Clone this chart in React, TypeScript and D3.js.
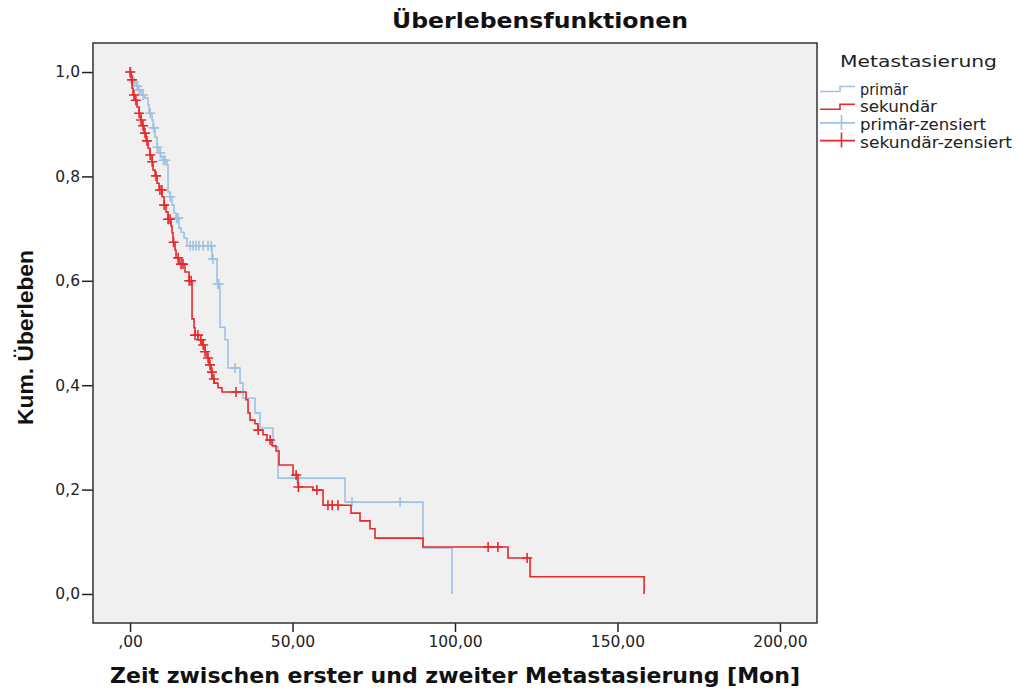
import { useEffect, useRef } from "react"
import * as d3 from "d3"

// Kaplan-Meier steps: [time in months, cumulative survival after the drop]
const primaerSteps: [number, number][] = [
    [0, 1.0], [0.31, 0.99], [0.92, 0.981], [1.85, 0.973], [2.46, 0.966], [3.38, 0.956],
    [4.62, 0.95], [5.54, 0.937], [5.85, 0.921], [6.77, 0.908], [7.08, 0.893], [7.69, 0.875],
    [8.31, 0.856], [8.92, 0.845], [9.54, 0.837], [10.15, 0.831], [11.38, 0.822], [11.69, 0.77],
    [12.31, 0.761], [12.92, 0.745], [13.54, 0.73], [14.15, 0.72], [15.08, 0.701], [15.69, 0.693],
    [16.62, 0.682], [17.54, 0.667], [25.23, 0.642], [26.77, 0.594], [27.69, 0.511], [29.23, 0.487],
    [30.15, 0.433], [33.85, 0.404], [34.77, 0.375], [38.46, 0.347], [40.0, 0.318], [44.0, 0.282],
    [45.54, 0.222], [66.15, 0.176], [90.15, 0.088], [99.08, 0.0],
]

const sekundaerSteps: [number, number][] = [
    [0, 1.0], [0.31, 0.985], [0.62, 0.969], [0.92, 0.956], [1.54, 0.946], [2.15, 0.933],
    [2.77, 0.921], [3.38, 0.908], [3.69, 0.897], [4.31, 0.883], [4.92, 0.868], [5.54, 0.854],
    [6.15, 0.841], [6.77, 0.828], [7.08, 0.812], [7.69, 0.801], [8.31, 0.787], [8.92, 0.774],
    [9.85, 0.761], [10.46, 0.745], [11.08, 0.732], [11.69, 0.718], [12.62, 0.705], [12.92, 0.692],
    [13.23, 0.674], [13.85, 0.659], [14.15, 0.644], [15.08, 0.632], [16.92, 0.617], [18.15, 0.6],
    [19.08, 0.527], [19.69, 0.51], [20.0, 0.496], [20.92, 0.487], [22.15, 0.477], [23.08, 0.464],
    [23.69, 0.452], [24.31, 0.439], [24.92, 0.425], [25.23, 0.412], [25.85, 0.404], [27.08, 0.395],
    [28.31, 0.387], [35.69, 0.372], [36.31, 0.347], [36.92, 0.333], [38.46, 0.326], [39.38, 0.314],
    [40.92, 0.305], [42.15, 0.295], [43.69, 0.284], [44.92, 0.274], [45.85, 0.247], [50.15, 0.228],
    [51.69, 0.205], [56.31, 0.199], [59.38, 0.17], [68.0, 0.155], [70.77, 0.14], [73.85, 0.125],
    [75.38, 0.107], [90.15, 0.09], [116.3, 0.069], [123.1, 0.033], [158.2, 0.0],
]

// censored times (months)
const primaerCensored = [
    0.3, 1.2, 2.2, 2.8, 4.0, 6.2, 7.3, 8.4, 9.3, 10.3, 10.8, 12.4, 14.3, 14.8,
    18.5, 19.4, 20.3, 21.2, 22.5, 24.0, 25.0, 25.5, 27.0, 27.3, 32.3, 51.4, 68.3, 83.1,
]

const sekundaerCensored = [
    0, 0.6, 1.2, 1.8, 2.8, 3.4, 4.0, 4.6, 5.2, 6.2, 6.8, 8.0, 9.2, 9.8, 10.5, 11.7,
    12.3, 13.4, 14.8, 15.7, 16.3, 18.2, 18.8, 20.0, 20.9, 21.8, 22.5, 23.1, 24.0, 24.6,
    25.2, 25.8, 32.6, 39.4, 43.1, 51.1, 51.8, 57.5, 60.9, 62.2, 64.0, 110.2, 113.2, 122.2,
]

const xTicks = [0, 50, 100, 150, 200]
const xTickLabels = [",00", "50,00", "100,00", "150,00", "200,00"]
const yTicks = [0, 0.2, 0.4, 0.6, 0.8, 1.0]
const yTickLabels = ["0,0", "0,2", "0,4", "0,6", "0,8", "1,0"]

const legendTitle = "Metastasierung"
const legendLabels = ["primär", "sekundär", "primär-zensiert", "sekundär-zensiert"]
const legendWidths = [48, 77, 126, 152]

const BLUE = "#a0c1e2"
const RED = "#e8282a"
const FONT = "'DejaVu Sans', Verdana, sans-serif"

function survivalAt(steps: [number, number][], t: number) {
    let s = steps[0][1]
    for (const [time, value] of steps) {
        if (time <= t) s = value
        else break
    }
    return s
}

export default function App() {
    const ref = useRef<SVGSVGElement | null>(null)

    useEffect(() => {
        const svg = d3.select(ref.current)
        svg.selectAll("*").remove()

        const left = 93, right = 817, top = 43, bottom = 623

        const x = d3.scaleLinear().domain([-11.4, 211.4]).range([left, right])
        const y = d3.scaleLinear().domain([-0.0556, 1.0556]).range([bottom, top])

        svg.append("rect")
            .attr("x", left)
            .attr("y", top)
            .attr("width", right - left)
            .attr("height", bottom - top)
            .attr("fill", "#f0f0f0")

        const yAxis = svg.append("g")
            .attr("transform", `translate(${left},0)`)
            .call(
                d3.axisLeft(y)
                    .tickValues(yTicks)
                    .tickSize(11)
                    .tickPadding(2)
                    .tickFormat((d, i) => yTickLabels[i])
            )
        yAxis.select(".domain").remove()

        const xAxis = svg.append("g")
            .attr("transform", `translate(0,${bottom})`)
            .call(
                d3.axisBottom(x)
                    .tickValues(xTicks)
                    .tickSize(9)
                    .tickPadding(4)
                    .tickFormat((d, i) => xTickLabels[i])
            )
        xAxis.select(".domain").remove()

        svg.selectAll(".tick line").attr("stroke", "#222").attr("stroke-width", 1.5)
        svg.selectAll(".tick text")
            .attr("font-family", FONT)
            .attr("font-size", 15.5)
            .attr("fill", "#222")

        const line = d3.line<[number, number]>()
            .x(d => x(d[0]))
            .y(d => y(d[1]))
            .curve(d3.curveStepAfter)

        const series = [
            { steps: primaerSteps, censored: primaerCensored, color: BLUE },
            { steps: sekundaerSteps, censored: sekundaerCensored, color: RED },
        ]

        series.forEach(s => {
            svg.append("path")
                .attr("d", line(s.steps))
                .attr("fill", "none")
                .attr("stroke", s.color)
                .attr("stroke-width", 1.6)

            svg.append("g")
                .selectAll("path")
                .data(s.censored)
                .join("path")
                .attr("d", t => {
                    const cx = x(t), cy = y(survivalAt(s.steps, t))
                    return `M${cx - 5},${cy}H${cx + 5}M${cx},${cy - 5}V${cy + 5}`
                })
                .attr("stroke", s.color)
                .attr("stroke-width", 1.6)
        })

        svg.append("rect")
            .attr("x", left)
            .attr("y", top)
            .attr("width", right - left)
            .attr("height", bottom - top)
            .attr("fill", "none")
            .attr("stroke", "#333")
            .attr("stroke-width", 1.5)

        svg.append("text")
            .attr("x", 540)
            .attr("y", 28)
            .attr("text-anchor", "middle")
            .attr("font-family", FONT)
            .attr("font-weight", "bold")
            .attr("font-size", 22)
            .attr("textLength", 296)
            .attr("lengthAdjust", "spacingAndGlyphs")
            .attr("fill", "#111")
            .text("Überlebensfunktionen")

        svg.append("text")
            .attr("x", 455)
            .attr("y", 683)
            .attr("text-anchor", "middle")
            .attr("font-family", FONT)
            .attr("font-weight", "bold")
            .attr("font-size", 20.5)
            .attr("textLength", 690)
            .attr("lengthAdjust", "spacingAndGlyphs")
            .attr("fill", "#111")
            .text("Zeit zwischen erster und zweiter Metastasierung [Mon]")

        svg.append("text")
            .attr("transform", `translate(33,337.5) rotate(-90)`)
            .attr("text-anchor", "middle")
            .attr("font-family", "'Liberation Sans', Arial, sans-serif")
            .attr("font-weight", "bold")
            .attr("font-size", 22.5)
            .attr("textLength", 175)
            .attr("lengthAdjust", "spacingAndGlyphs")
            .attr("fill", "#111")
            .text("Kum. Überleben")

        // legend
        const lg = svg.append("g")
        lg.append("text")
            .attr("x", 840)
            .attr("y", 66.5)
            .attr("font-family", FONT)
            .attr("font-size", 16.5)
            .attr("textLength", 157)
            .attr("lengthAdjust", "spacingAndGlyphs")
            .attr("fill", "#222")
            .text(legendTitle)

        const colors = [BLUE, RED, BLUE, RED]
        legendLabels.forEach((label, i) => {
            const base = 94.5 + i * 17.7
            if (i < 2) {
                lg.append("path")
                    .attr("d", `M820,${base - 3}H840V${base - 8}H855`)
                    .attr("fill", "none")
                    .attr("stroke", colors[i])
                    .attr("stroke-width", 1.6)
            } else {
                lg.append("path")
                    .attr("d", `M820,${base - 7}H855M841.5,${base - 15}V${base}`)
                    .attr("fill", "none")
                    .attr("stroke", colors[i])
                    .attr("stroke-width", 1.6)
            }
            lg.append("text")
                .attr("x", 860)
                .attr("y", base)
                .attr("font-family", FONT)
                .attr("font-size", 15)
                .attr("textLength", legendWidths[i])
                .attr("lengthAdjust", "spacingAndGlyphs")
                .attr("fill", "#222")
                .text(label)
        })
    }, [])

    return (
        <svg
            ref={ref}
            width={1017}
            height={689}
            style={{ position: "absolute", left: 0, top: 0, background: "#fff" }}
        />
    )
}
